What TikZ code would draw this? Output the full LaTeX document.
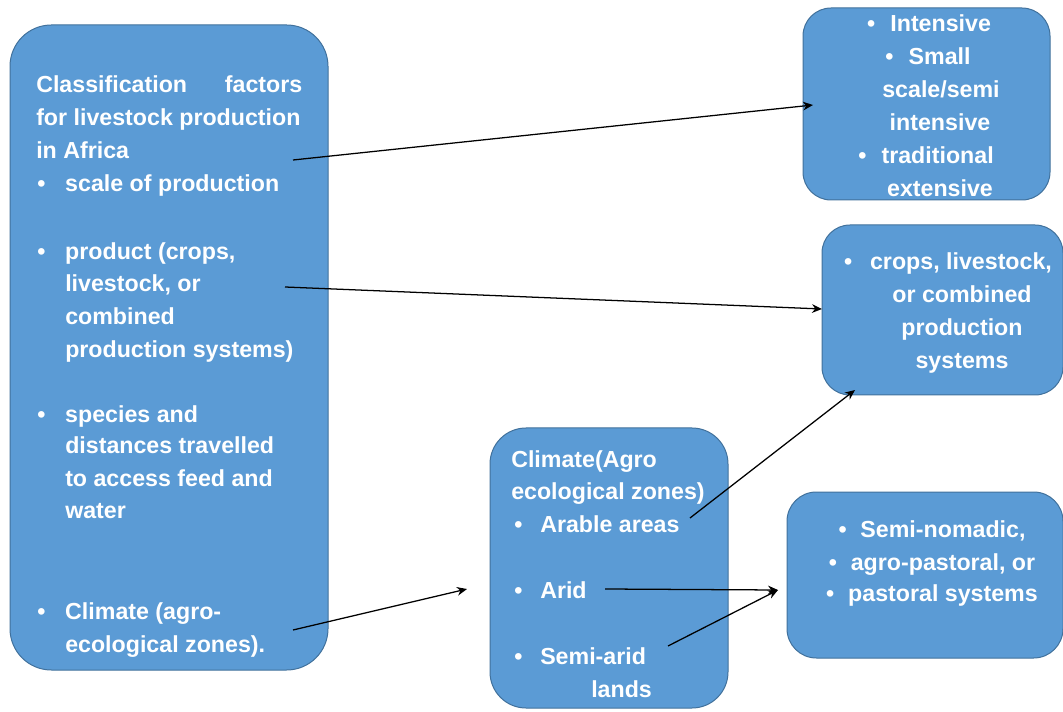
\documentclass[tikz,border=0pt]{standalone}
\usepackage{fontspec}
\setmainfont{Liberation Sans}
\usetikzlibrary{arrows.meta,fit}
\definecolor{boxblue}{RGB}{91,155,213}
\definecolor{boxline}{RGB}{65,113,156}
\newcommand{\bul}[1]{\makebox[#1][l]{\textbullet}}

\begin{document}
\begin{tikzpicture}[x=0.75pt,y=-0.75pt,
  box/.style={draw=boxline, fill=boxblue, line width=0.75pt, inner sep=0pt},
  txt/.style={text=white, font=\fontsize{17.4}{20}\selectfont\bfseries, inner sep=0pt},
  arr/.style={-{Stealth[length=7.5pt,width=6.5pt]}, line width=0.95pt}]
\useasboundingbox (0,0) rectangle (1063,712);

% boxes
\node[box, rounded corners=31pt, fit={(10,25) (328,670)}] (factors) {};
\node[box, rounded corners=21pt, fit={(803,8) (1050,200)}] (types) {};
\node[box, rounded corners=21pt, fit={(822,225) (1063,395)}] (products) {};
\node[box, rounded corners=27pt, fit={(490,428) (728,708)}] (climate) {};
\node[box, rounded corners=22pt, fit={(787,492) (1063,658)}] (systems) {};

% left box
\node[txt, anchor=base west] (head1) at (36,93) {\makebox[199.5pt][s]{Classification factors}};
\node[txt, anchor=base west] (head2) at (36,126) {for livestock production};
\node[txt, anchor=base west] (head3) at (36,159) {in Africa};
\node[txt, anchor=base west] (scale) at (37,192) {\bul{21pt}scale of production};
\node[txt, anchor=base west] (prod1) at (37,260) {\bul{21pt}product (crops,};
\node[txt, anchor=base west] (prod2) at (65,292) {livestock, or};
\node[txt, anchor=base west] (prod3) at (65,325) {combined};
\node[txt, anchor=base west] (prod4) at (65,358) {production systems)};
\node[txt, anchor=base west] (spec1) at (37,422) {\bul{21pt}species and};
\node[txt, anchor=base west] (spec2) at (65,454) {distances travelled};
\node[txt, anchor=base west] (spec3) at (65,486) {to access feed and};
\node[txt, anchor=base west] (spec4) at (65,518) {water};
\node[txt, anchor=base west] (clim1) at (37,619) {\bul{21pt}Climate (agro-};
\node[txt, anchor=base west] (clim2) at (65,652) {ecological zones).};

% top right
\node[txt, anchor=base] (int1) at (929,32) {\bul{17.5pt}Intensive};
\node[txt, anchor=base] (small1) at (928,65) {\bul{17.5pt}Small};
\node[txt, anchor=base] (small2) at (941,98) {scale/semi};
\node[txt, anchor=base] (small3) at (940,131) {intensive};
\node[txt, anchor=base] (trad1) at (926,164) {\bul{17.5pt}traditional};
\node[txt, anchor=base] (trad2) at (940,197) {extensive};

% middle right
\node[txt, anchor=base] (crop1) at (948,270) {\bul{19.5pt}crops, livestock,};
\node[txt, anchor=base] (crop2) at (962,303) {or combined};
\node[txt, anchor=base] (crop3) at (962,336) {production};
\node[txt, anchor=base] (crop4) at (962,369) {systems};

% climate box
\node[txt, anchor=base west] (zone1) at (511,467) {Climate(Agro};
\node[txt, anchor=base west] (zone2) at (511,499) {ecological zones)};
\node[txt, anchor=base west] (arable) at (514,532) {\bul{19.5pt}Arable areas};
\node[txt, anchor=base west] (arid) at (514,598) {\bul{19.5pt}Arid};
\node[txt, anchor=base west] (semi1) at (514,664) {\bul{19.5pt}Semi-arid};
\node[txt, anchor=base west] (semi2) at (591,697) {lands};

% bottom right
\node[txt, anchor=base] (nom1) at (932,537) {\bul{16.5pt}Semi-nomadic,};
\node[txt, anchor=base] (nom2) at (932,570) {\bul{16.5pt}agro-pastoral, or};
\node[txt, anchor=base] (nom3) at (932,601) {\bul{16.5pt}pastoral systems};

% arrow ends
\coordinate (fromScale) at (293,160);
\coordinate (toTypes) at (813,105);
\coordinate (fromProduct) at (285,287);
\coordinate (toProducts) at (822,309);
\coordinate (fromClimate) at (293,630);
\coordinate (toClimate) at (467,589);
\coordinate (fromArable) at (690,518);
\coordinate (toCrops) at (855,390);
\coordinate (fromArid) at (605,589);
\coordinate (fromSemi) at (668,646);
\coordinate (toSystems) at (778,590);

\draw[arr] (fromScale) -- (toTypes);
\draw[arr] (fromProduct) -- (toProducts);
\draw[arr] (fromClimate) -- (toClimate);
\draw[arr] (fromArable) -- (toCrops);
\draw[arr] (fromArid) -- (toSystems);
\draw[arr] (fromSemi) -- (toSystems);
\end{tikzpicture}
\end{document}
